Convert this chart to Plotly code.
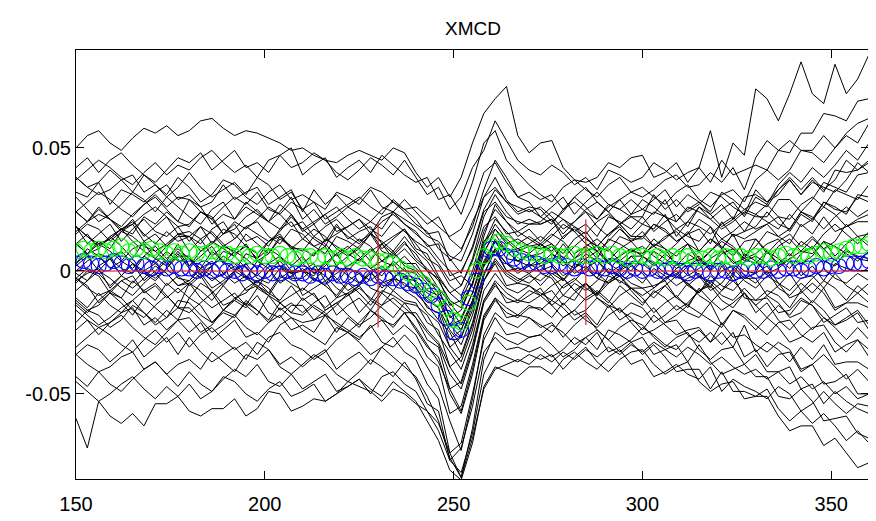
import plotly.graph_objects as go

# Energy grids (sampling positions)
X_LINES = list(range(150, 361, 3))     # 71 points, black spectra
X_MARK = list(range(150, 361, 2))      # 106 points, circle series

Y_SCALE = 1e-3  # values below are in units of 1e-3

LINE_01 = [50,55,57,52,49,54,58,56,59,55, 57,61,62,58,55,57,56,54,52,49, 50,47,45,44,47,49,47,45,50,48,
           40,34,38,30,38,52,64,70,75,55,48, 52,53,42,37,36,38,44,42,46,
           47,38,40,44,36,42,57,38,52,47, 74,70,61,72,85,72,68,84,72,78, 88]
LINE_02 = [42,46,40,45,48,43,39,36,41,46, 44,48,41,45,49,42,44,40,47,50, 39,43,46,38,42,45,40,47,43,39,
           36,38,29,31,23,36,52,57,45,40,35, 31,28,34,37,33,30,35,38,32,
           30,33,37,39,34,35,40,36,42,33, 46,53,49,48,56,56,64,63,61,69, 70]
LINE_03 = [38,34,36,41,37,32,39,35,31,38, 34,28,31,37,35,30,27,32,35,29, 31,28,25,32,30,27,33,26,24,29,
           24,19,22,13,9,18,33,45,38,30,32, 29,31,25,30,34,28,24,29,32,
           34,30,27,32,35,29,26,31,33,28, 37,41,37,41,49,48,44,50,55,52, 60]
LINE_04 = [38,34,31,33,37,39,32,35,30,34, 40,34,30,33,36,31,38,35,29,32, 25,28,21,24,27,30,26,23,29,25,
           21,15,16,4,8,20,30,34,28,26,24, 26,22,17,20,25,28,24,19,23,
           25,23,29,20,26,24,21,25,28,22, 30,27,35,40,36,42,38,43,49,45, 52]
LINE_05 = [24,28,32,29,25,22,27,31,26,30, 29,24,21,26,30,27,32,25,23,28, 25,19,23,26,21,17,20,25,28,24,
           19,16,9,5,-1,10,25,33,28,23,25, 22,19,25,28,24,21,26,29,23,
           29,26,22,20,25,28,23,27,21,30, 31,28,31,37,31,37,32,41,40,41, 45]
LINE_06 = [24,20,26,21,18,23,27,30,25,20, 29,26,19,23,21,28,24,20,27,23, 17,20,23,16,18,21,15,22,24,19,
           16,10,11,-2,0,9,24,28,22,20,19, 20,24,21,16,19,14,22,20,17,
           22,16,20,23,18,26,21,17,20,24, 22,22,29,29,24,29,36,34,32,39, 40]
LINE_07 = [16,20,23,21,17,15,22,19,24,20, 18,24,21,15,17,22,25,20,17,23, 16,19,12,15,18,21,17,14,20,16,
           12,9,3,-4,-2,-6,14,27,20,16,19, 19,21,15,20,24,18,14,19,22,
           19,24,22,17,20,26,23,18,21,25, 23,27,22,21,27,30,26,33,31,29, 35]
LINE_08 = [15,19,17,12,16,21,14,18,22,15, 14,11,17,20,13,18,15,12,16,22, 17,13,10,18,14,11,16,9,13,17,
           9,7,-2,-9,-6,4,18,22,15,16,13, 10,14,19,16,11,8,12,17,13,
           13,19,16,12,15,17,11,20,14,16, 18,24,19,17,24,21,28,26,23,31, 30]
LINE_09 = [18,14,10,13,17,20,15,11,16,12, 14,18,11,15,19,12,14,10,17,20, 13,17,14,9,6,10,15,12,8,14,
           8,4,-3,-9,-13,-5,11,21,16,11,14, 11,8,14,17,13,10,15,18,12,
           16,10,13,17,14,12,18,9,15,13, 16,19,14,17,24,22,17,22,26,22, 25]
LINE_10 = [18,14,11,13,17,19,12,15,10,14, 14,8,11,17,15,10,7,12,15,9, 13,10,7,14,12,9,15,8,6,11,
           7,0,-3,-14,-12,-2,12,17,11,13,10, 11,15,12,7,10,5,13,11,8,
           7,10,14,16,11,8,13,9,15,6, 10,16,14,11,19,15,22,16,18,20, 20]
LINE_11 = [11,15,9,14,17,12,8,5,10,15, 8,13,16,11,7,10,5,12,14,9, 9,6,13,10,7,4,8,11,5,9,
           4,0,-7,-13,-19,-9,7,17,12,8,10, 9,11,5,10,14,8,4,9,12,
           7,13,9,6,11,3,8,12,9,5, 13,7,12,15,10,14,9,12,19,14, 15]
LINE_12 = [11,7,9,14,10,5,12,8,4,11, 2,8,12,9,6,11,4,7,13,10, 3,7,10,2,6,9,4,11,7,3,
           3,-4,-7,-19,-16,-5,8,15,8,9,7, 11,7,2,5,10,13,9,4,8,
           10,6,3,8,11,5,2,7,9,4, 6,3,10,13,8,7,12,6,11,14, 10]
LINE_13 = [3,7,11,8,4,1,6,10,5,9, 5,1,8,4,0,7,5,9,2,-1, 3,-1,2,7,10,6,1,4,8,2,
           0,-5,-11,-18,-24,-13,2,12,8,4,6, 7,10,4,1,5,8,3,0,6,
           2,8,5,1,4,6,0,9,3,5, 3,8,5,1,7,10,4,2,8,6, 5]
LINE_14 = [0,4,7,5,1,-1,6,3,8,4, 5,-1,2,8,6,1,-2,3,6,0, 0,3,-4,-1,2,5,1,-2,4,0,
           -1,-8,-10,-22,-20,-9,4,12,5,4,2, 3,7,4,-1,2,-3,5,3,0,
           6,3,-1,-3,2,5,0,4,-2,7, 4,-1,1,5,-2,2,-4,3,1,0, 0]
LINE_15 = [2,6,0,5,8,3,-1,-4,1,6, 6,0,-4,-1,2,-3,4,1,-5,-2, 1,-3,-6,2,-2,-5,0,-7,-3,1,
           -5,-11,-15,-24,-30,-18,-2,9,3,0,3, 0,2,-4,1,5,-1,-5,0,3,
           3,-1,-4,1,4,-2,-5,0,2,-3, -1,2,-5,-8,-3,-2,-7,-1,-6,-9, -5]
LINE_16 = [-3,1,-1,-6,-2,3,-4,0,4,-3, -4,1,4,-1,-5,-2,-7,0,2,-3, -3,1,-2,-7,-10,-6,-1,-4,-8,-2,
           -7,-15,-17,-31,-27,-14,2,9,0,1,-1, 2,-2,-7,-4,1,4,0,-5,-1,
           -5,1,-2,-6,-3,-1,-7,2,-4,-2, -5,0,-7,-10,-5,-9,-4,-7,-12,-6, -10]
LINE_17 = [-8,-4,0,-3,-7,-10,-5,-1,-6,-2, -6,-2,-9,-5,-1,-8,-6,-10,-3,0, -10,-7,-4,-11,-9,-6,-12,-5,-3,-8,
           -11,-17,-21,-31,-37,-24,-4,4,-2,-5,-2, -4,0,-3,-8,-5,-10,-2,-4,-7,
           -10,-7,-3,-1,-6,-9,-4,-8,-2,-11, -12,-8,-10,-15,-8,-13,-7,-15,-13,-13, -15]
LINE_18 = [-3,-7,-10,-8,-4,-2,-9,-6,-11,-7, -11,-5,-8,-14,-12,-7,-4,-9,-12,-6, -12,-9,-16,-13,-10,-7,-11,-14,-8,-12,
           -13,-21,-24,-39,-35,-22,-4,3,-6,-5,-6, -9,-12,-6,-3,-7,-10,-5,-2,-8,
           -13,-9,-6,-11,-14,-8,-5,-10,-12,-7, -12,-11,-17,-16,-11,-14,-21,-18,-15,-21, -20]
LINE_19 = [-11,-15,-9,-14,-17,-12,-8,-5,-10,-15, -5,-11,-15,-12,-9,-14,-7,-10,-16,-13, -17,-13,-10,-18,-14,-11,-16,-9,-13,-17,
           -17,-24,-29,-39,-46,-32,-12,-4,-9,-12,-8, -10,-8,-14,-9,-5,-11,-15,-10,-7,
           -11,-17,-13,-10,-15,-7,-12,-16,-13,-9, -17,-13,-20,-24,-19,-24,-19,-23,-28,-23, -28]
LINE_20 = [-12,-16,-14,-9,-13,-18,-11,-15,-19,-12, -13,-18,-21,-16,-12,-15,-10,-17,-19,-14, -14,-20,-16,-13,-18,-22,-19,-14,-11,-15,
           -19,-28,-31,-48,-45,-30,-12,-5,-13,-12,-13, -10,-14,-19,-16,-11,-8,-12,-17,-13,
           -15,-21,-18,-14,-17,-19,-13,-22,-16,-18, -22,-26,-21,-20,-26,-29,-25,-33,-30,-28, -35]
LINE_21 = [-14,-18,-22,-19,-15,-12,-17,-21,-16,-20, -11,-14,-21,-17,-19,-12,-16,-20,-13,-17, -18,-14,-17,-22,-25,-21,-16,-19,-23,-17,
           -23,-30,-37,-48,-57,-40,-19,-11,-15,-18,-14, -16,-12,-15,-20,-17,-22,-14,-16,-19,
           -24,-18,-22,-26,-24,-23,-29,-21,-27,-26, -30,-33,-29,-32,-40,-38,-34,-39,-44,-40, -45]
LINE_22 = [-16,-20,-23,-21,-17,-15,-22,-19,-24,-20, -19,-25,-22,-16,-18,-23,-26,-21,-18,-24, -22,-25,-18,-21,-24,-27,-23,-20,-26,-22,
           -26,-35,-39,-58,-55,-38,-18,-11,-19,-18,-19, -22,-25,-19,-16,-20,-23,-18,-15,-21,
           -26,-24,-21,-20,-26,-29,-25,-30,-25,-35, -32,-39,-34,-33,-41,-38,-46,-45,-42,-50, -50]
LINE_23 = [-24,-20,-26,-21,-18,-23,-27,-30,-25,-20, -25,-21,-28,-24,-20,-27,-25,-29,-22,-19, -24,-27,-30,-23,-25,-28,-22,-29,-31,-26,
           -31,-39,-47,-61,-73,-52,-26,-17,-21,-23,-19, -23,-21,-27,-22,-18,-24,-28,-23,-20,
           -22,-27,-31,-27,-25,-32,-36,-32,-31,-38, -34,-41,-41,-39,-48,-46,-54,-49,-53,-56, -58]
LINE_24 = [-31,-27,-23,-26,-30,-33,-28,-24,-29,-25, -31,-26,-23,-28,-32,-29,-34,-27,-25,-30, -32,-36,-33,-28,-25,-29,-34,-31,-27,-33,
           -36,-46,-52,-74,-70,-50,-28,-19,-26,-25,-27, -26,-22,-25,-30,-27,-32,-24,-26,-29,
           -27,-34,-32,-30,-37,-30,-37,-42,-40,-38, -43,-43,-51,-52,-48,-53,-61,-60,-59,-66, -68]
LINE_25 = [-34,-30,-32,-37,-33,-28,-35,-31,-27,-34, -27,-33,-37,-34,-31,-36,-29,-32,-38,-35, -39,-35,-32,-40,-36,-33,-38,-31,-35,-39,
           -43,-51,-61,-76,-84,-64,-36,-25,-28,-30,-27, -26,-30,-35,-32,-27,-24,-28,-33,-29,
           -34,-30,-35,-41,-40,-40,-48,-41,-49,-49, -51,-51,-59,-65,-63,-63,-71,-68,-74,-80, -78]
LINE_26 = [-34,-38,-41,-39,-35,-33,-40,-37,-42,-38, -36,-40,-33,-37,-41,-34,-36,-32,-39,-42, -38,-34,-37,-42,-45,-41,-36,-39,-43,-37,
           -44,-54,-57,-77,-72,-55,-33,-27,-32,-31,-33, -31,-35,-32,-27,-30,-25,-33,-31,-28,
           -23,-26,-30,-32,-27,-24,-29,-25,-31,-22, -33,-29,-32,-37,-31,-36,-30,-38,-37,-37, -40]
LINE_27 = [-43,-47,-41,-46,-49,-44,-40,-37,-42,-47, -41,-46,-49,-44,-40,-43,-38,-45,-47,-42, -48,-45,-42,-49,-47,-44,-50,-43,-41,-46,
           -49,-57,-65,-77,-82,-66,-42,-33,-35,-37,-34, -36,-34,-40,-35,-31,-37,-41,-36,-33,
           -32,-38,-42,-39,-37,-45,-49,-46,-45,-52, -51,-48,-56,-61,-57,-62,-58,-63,-69,-65, -70]
LINE_28 = [-45,-49,-53,-50,-46,-43,-48,-52,-47,-51, -46,-52,-49,-43,-45,-50,-53,-48,-45,-51, -49,-46,-53,-50,-47,-44,-48,-51,-45,-49,
           -53,-61,-69,-81,-85,-70,-47,-39,-41,-43,-39, -39,-42,-36,-33,-37,-40,-35,-32,-38,
           -36,-43,-41,-38,-42,-44,-39,-49,-44,-47, -49,-52,-47,-50,-57,-54,-49,-54,-58,-54, -55]
LINE_29 = [-60,-72,-53,-59,-62,-58,-63,-54,-54,-51, -57,-59,-56,-56,-52,-59,-56,-49,-50,-57, -55,-52,-53,-50,-45,-47,-49,-53,-48,-50,
           -54,-57,-62,-74,-84,-68,-48,-40,-38,-36,-38, -34,-37,-33,-36,-32,-35,-31,-34,-30,
           -33,-29,-32,-35,-31,-34,-38,-35,-39,-42, -40,-44,-41,-46,-43,-48,-45,-50,-47,-52, -50]
LINE_30 = [37,41,45,42,38,35,40,44,39,43, 41,46,49,44,40,43,38,45,47,42, 44,48,45,40,37,41,46,43,39,45,
           38,31,34,25,30,42,49,61,53,45,41, 39,43,40,35,38,33,41,39,36,
           38,44,41,37,40,42,36,45,39,41, 43,41,49,53,49,49,55,50,56,60, 62]
LINE_31 = [30,25,20,23,27,32,29,24,30,26, 22,19,25,28,21,26,23,20,24,30, 21,25,19,22,26,23,20,17,24,21,
           18,14,12,6,4,15,30,38,29,24,26, 25,20,24,30,26,21,27,25,22,
           22,31,25,29,24,27,32,30,26,23, 33,28,33,38,33,38,33,37,45,41, 44]
LINE_32 = [24,20,25,21,16,19,23,26,22,18, 19,24,22,15,20,17,21,26,23,18, 20,14,18,21,16,12,15,20,23,19,
           15,11,5,0,-6,5,22,31,24,19,21, 19,21,13,18,15,20,23,19,14,
           19,17,23,14,20,18,15,19,22,16, 23,20,17,23,18,21,26,23,18,21, 23]
LINE_33 = [18,11,15,19,12,17,21,16,14,18, 12,18,15,10,13,18,20,14,11,17, 15,10,12,19,13,16,18,11,14,17,
           11,5,2,-6,-10,0,16,25,20,14,17, 12,17,21,18,13,10,15,19,14,
           14,19,17,12,15,21,18,13,16,20, 17,19,22,16,23,20,28,25,24,30, 28]
LINE_34 = [11,7,12,9,16,14,10,8,11,15, 16,13,6,10,8,15,11,7,14,10, 8,14,11,6,9,13,10,4,7,12,
           5,1,-4,-12,-15,-5,10,19,13,9,11, 14,11,7,13,16,10,8,14,12,
           14,10,7,11,16,8,13,10,6,12, 13,8,2,5,8,13,9,4,9,5, 4]
LINE_35 = [3,9,6,1,4,9,11,5,2,8, 2,6,10,3,8,5,1,9,6,2, 6,-1,3,7,0,5,9,4,2,6,
           1,-3,-9,-15,-22,-12,3,13,8,4,7, 2,4,11,5,8,10,3,6,9,
           6,11,9,2,7,4,8,13,10,5, 7,11,13,6,12,9,15,19,15,11, 16]
LINE_36 = [-1,-4,2,5,-2,3,0,-3,1,7, 1,-3,2,6,3,-2,-5,0,4,-1, 0,-2,4,-5,1,-1,-4,0,3,-3,
           -4,-9,-12,-22,-27,-16,-1,8,3,-1,2, 5,3,-2,1,7,4,-1,2,6,
           6,2,7,3,-2,1,5,8,4,0, -1,8,3,7,3,6,12,10,7,4, 8]
LINE_37 = [-5,0,-2,-9,-4,-7,-3,2,-1,-6, -5,-1,-7,-4,0,-3,-6,-9,-2,-5, -8,-3,-6,-10,-4,-1,-7,-9,-3,-5,
           -9,-14,-20,-25,-34,-21,-4,5,-1,-4,-1, -6,-1,-4,3,1,-3,-5,-2,2,
           -1,-7,-3,0,-6,-2,-8,-5,1,-4, -7,-2,-5,-11,-9,-5,-9,-16,-13,-9, -13]
LINE_38 = [-3,-6,-13,-9,-11,-4,-8,-12,-5,-9, -5,-8,-12,-6,-11,-9,-4,-7,-13,-10, -7,-10,-15,-11,-5,-9,-14,-8,-10,-13,
           -14,-18,-26,-33,-40,-27,-8,-1,-7,-9,-6, -10,-6,-3,-8,-12,-9,-4,-1,-5,
           -7,-6,-4,-11,-5,-9,-2,-6,-8,-3, -3,-10,-6,-1,-8,-3,1,-3,-5,-1, -4]
LINE_39 = [-13,-17,-12,-8,-11,-16,-19,-14,-10,-15, -17,-13,-9,-16,-11,-14,-18,-10,-13,-17, -11,-15,-18,-14,-9,-17,-12,-15,-19,-13,
           -19,-25,-30,-42,-48,-33,-13,-6,-11,-13,-10, -7,-14,-10,-12,-5,-9,-13,-6,-10,
           -14,-8,-11,-16,-13,-8,-6,-12,-15,-9, -14,-19,-14,-18,-12,-14,-19,-22,-19,-16, -22]
LINE_40 = [-21,-16,-18,-23,-20,-14,-17,-22,-19,-15, -15,-20,-25,-22,-18,-13,-16,-21,-15,-19, -21,-20,-18,-25,-19,-23,-16,-20,-22,-17,
           -24,-31,-35,-50,-58,-42,-20,-12,-17,-19,-15, -15,-19,-13,-18,-16,-11,-14,-20,-17,
           -19,-15,-21,-18,-14,-17,-20,-23,-16,-19, -24,-19,-23,-29,-27,-23,-22,-29,-33,-28, -32]
LINE_41 = [32,30,36,27,33,31,28,32,35,29, 31,26,28,35,29,32,34,27,30,33, 24,33,27,31,26,29,34,32,28,25,
           26,22,18,14,17,26,40,44,36,30,28, 22,26,30,23,28,32,27,25,29,
           25,29,33,26,31,28,24,32,29,25, 28,26,33,37,31,36,34,32,37,44, 40]
LINE_42 = [-4,-1,1,-7,-2,-5,0,3,-1,-6, -4,1,-2,-6,0,3,-3,-5,1,-1, 0,-4,1,-3,-8,-5,-1,2,-2,-6,
           -7,-12,-15,-28,-24,-12,2,8,0,-3,-5, -1,-3,-10,-5,-8,-4,1,-2,-7,
           -7,-11,-6,-2,-5,-10,-13,-8,-4,-9, -14,-10,-13,-19,-17,-12,-16,-22,-20,-17, -24]

BLACK_LINES = [LINE_01, LINE_02, LINE_03, LINE_04, LINE_05, LINE_06, LINE_07, LINE_08, LINE_09, LINE_10,
               LINE_11, LINE_12, LINE_13, LINE_14, LINE_15, LINE_16, LINE_17, LINE_18, LINE_19, LINE_20,
               LINE_21, LINE_22, LINE_23, LINE_24, LINE_25, LINE_26, LINE_27, LINE_28, LINE_29, LINE_30,
               LINE_31, LINE_32, LINE_33, LINE_34, LINE_35, LINE_36, LINE_37, LINE_38, LINE_39, LINE_40,
               LINE_41, LINE_42]

GREEN_MEAN = [8,9,8,9,8,9,10,8,9,8, 9,8,7,8,7,8,7,7,8,7, 7,6,7,6,7,6,6,7,6,5,
              6,6,5,6,5,6,5,6,5,5, 4,4,3,1,-1,-3,-5,-8,-11,-15,
              -20,-21,-13,0,6,10,12,11,9,8, 7,7,6,7,6,6,7,6,6,7,
              6,7,6,5,6,6,5,6,5,6, 5,6,5,5,6,5,6,5,6,5,
              6,6,5,6,7,6,7,6,7,8, 7,8,9,10,10,11]
BLUE_SERIES = [3,4,3,2,3,4,3,2,3,2, 1,2,1,2,1,1,0,1,0,1, 0,0,-1,0,-1,0,-1,-1,0,-1,
               -1,-2,-1,-2,-1,-2,-2,-3,-2,-3, -2,-3,-3,-4,-5,-6,-8,-10,-14,-19,
               -25,-24,-11,-4,3,9,9,6,5,4, 3,3,2,2,3,2,1,2,1,2,
               1,2,1,0,1,0,1,0,0,1, 0,-1,0,0,-1,0,0,-1,0,1,
               0,0,1,0,1,1,0,1,2,1, 2,2,3,3,3,4]

RED_H_X = [150, 360]
RED_H_Y = [0, 0]
RED_V1_X = [230, 230]
RED_V1_Y = [-23, 20]
RED_V2_X = [285, 285]
RED_V2_Y = [-22, 21]

for s in BLACK_LINES:
    assert len(s) == len(X_LINES), len(s)
assert len(GREEN_MEAN) == len(X_MARK), len(GREEN_MEAN)
assert len(BLUE_SERIES) == len(X_MARK), len(BLUE_SERIES)


def sc(vals):
    return [v * Y_SCALE for v in vals]


fig = go.Figure()
for s in BLACK_LINES:
    fig.add_trace(go.Scatter(x=X_LINES, y=sc(s), mode="lines",
                             line=dict(color="black", width=1), showlegend=False, hoverinfo="skip"))
fig.add_trace(go.Scatter(x=X_MARK, y=sc(BLUE_SERIES), mode="markers",
                         marker=dict(symbol="circle-open", size=15, color="rgb(0,0,255)", line=dict(width=1.1)),
                         showlegend=False))
fig.add_trace(go.Scatter(x=X_MARK, y=sc(GREEN_MEAN), mode="markers",
                         marker=dict(symbol="circle-open", size=15, color="rgb(0,255,0)", line=dict(width=1.1)),
                         showlegend=False))
for xs, ys in [(RED_H_X, RED_H_Y), (RED_V1_X, RED_V1_Y), (RED_V2_X, RED_V2_Y)]:
    fig.add_trace(go.Scatter(x=xs, y=sc(ys), mode="lines",
                             line=dict(color="rgba(220,40,40,0.8)", width=1.5), showlegend=False))

axis_common = dict(showline=True, linecolor="black", linewidth=1.2, mirror="ticks",
                   ticks="inside", ticklen=8, tickwidth=1, tickcolor="black",
                   showgrid=False, zeroline=False, automargin=False,
                   tickfont=dict(family="Liberation Sans, Arial", size=20, color="black"))

fig.update_xaxes(range=[150, 360], tickvals=[150, 200, 250, 300, 350], ticklabelstandoff=7, **axis_common)
fig.update_yaxes(range=[-0.0846, 0.0898], tickvals=[-0.05, 0, 0.05],
                 ticktext=["-0.05", "0", "0.05"], **axis_common)

fig.add_annotation(text="XMCD", xref="paper", yref="paper", x=0.5, y=1, yanchor="bottom",
                   yshift=9, showarrow=False,
                   font=dict(family="Liberation Sans, Arial", size=19, color="black"))

# page body adds an 8px offset; figure sized so the axes land where the reference has them
fig.update_layout(width=868, height=513, margin=dict(l=68, r=7, t=42, b=42),
                  plot_bgcolor="white", paper_bgcolor="white", showlegend=False)

fig.write_html("out.html")
